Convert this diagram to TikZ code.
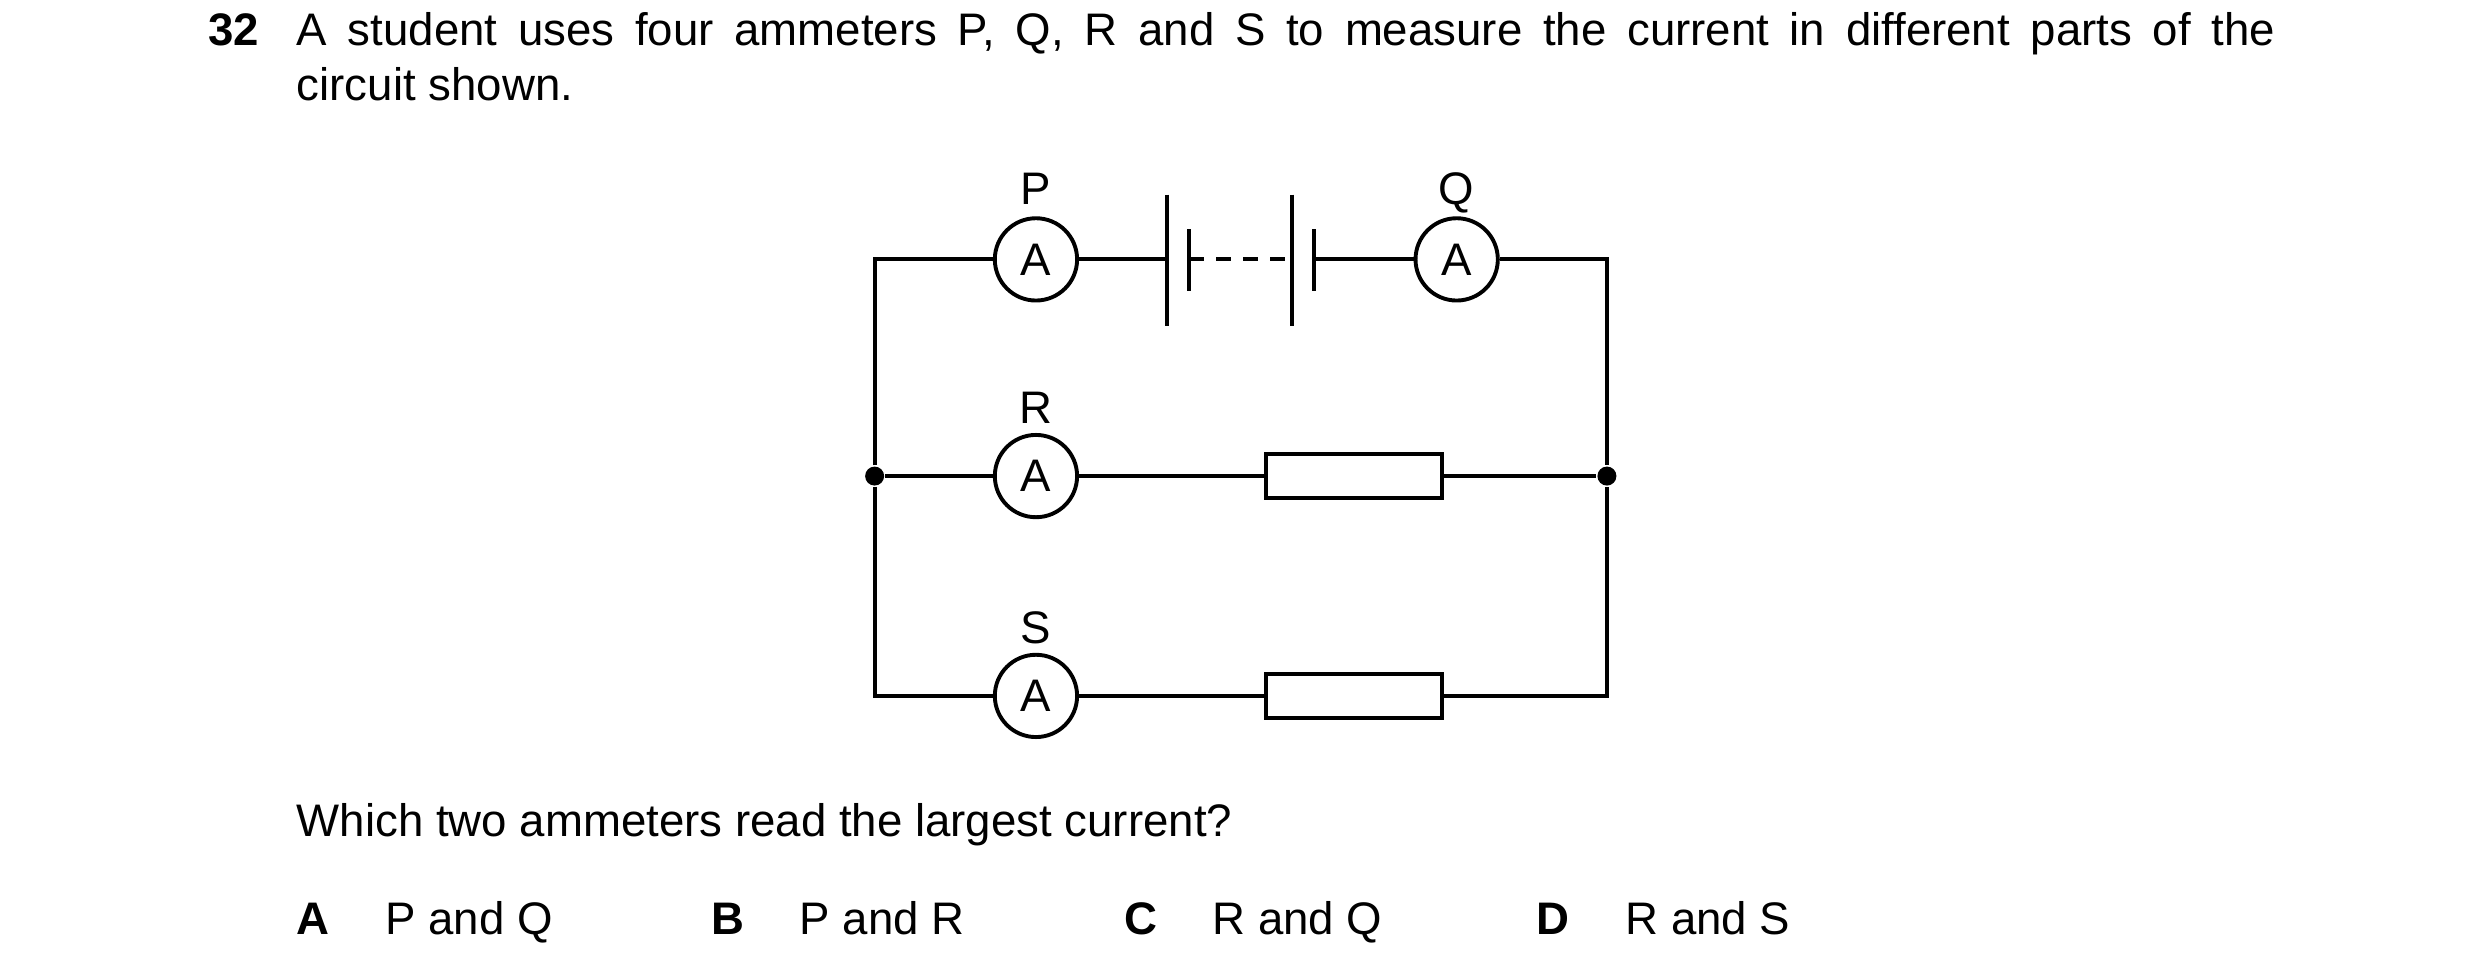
\documentclass[tikz,border=0pt]{standalone}
\usepackage{fontspec}
\setmainfont{Liberation Sans}
\usepackage{tikz}
\usetikzlibrary{positioning}

\tikzset{
  wire/.style={line width=0.7pt},
  meter/.style={circle, draw, line width=0.7pt, minimum size=0.52cm, inner sep=0pt, font=\fontsize{8.2}{9}\selectfont},
  lbl/.style={font=\fontsize{8.2}{9}\selectfont, inner sep=0pt, anchor=base},
  res/.style={rectangle, draw, line width=0.7pt, minimum width=1.11cm, minimum height=0.28cm, inner sep=0pt},
  dot/.style={circle, fill, inner sep=0pt, minimum size=0.12cm},
  txt/.style={font=\fontsize{8.2}{10}\selectfont, inner sep=0pt, anchor=base west}
}

\begin{document}
\begin{tikzpicture}[x=0.01cm, y=-0.01cm]
  \useasboundingbox (0,0) rectangle (1568,618);
  % question
  \node[txt, font=\fontsize{8.2}{10}\selectfont\bfseries] (num) at (131,29) {32};
  \node[txt, anchor=north west, text width=12.5cm, align=justify] (q) at (187,7)
    {A student uses four ammeters P, Q, R and S to measure the current in different parts of the\linebreak circuit shown.};
  % corners and junctions
  \coordinate (tl) at (553,164);
  \coordinate (tr) at (1016,164);
  \coordinate (bl) at (553,440);
  \coordinate (br) at (1016,440);
  \node[dot] (jl) at (553,301) {};
  \node[dot] (jr) at (1016,301) {};
  % meters
  \node[meter] (P) at (655,164) {A};
  \node[meter] (Q) at (921,164) {A};
  \node[meter] (R) at (655,301) {A};
  \node[meter] (S) at (655,440) {A};
  \node[lbl] (lP) at (655,129) {P};
  \node[lbl] (lQ) at (921,129) {Q};
  \node[lbl] (lR) at (655,268) {R};
  \node[lbl] (lS) at (655,407) {S};
  % resistors
  \node[res] (r1) at (856,301) {};
  \node[res] (r2) at (856,440) {};
  % battery
  \coordinate (c1) at (738,164);
  \coordinate (c2) at (752,164);
  \coordinate (c3) at (817,164);
  \coordinate (c4) at (831,164);
  \draw[wire] (c1) ++(0,-41) -- ++(0,83);
  \draw[wire] (c3) ++(0,-41) -- ++(0,83);
  \draw[wire] (c2) ++(0,-19) -- ++(0,39);
  \draw[wire] (c4) ++(0,-19) -- ++(0,39);
  \draw[wire, dash pattern=on 0.95mm off 0.75mm] (c2) -- (c3);
  % wires
  \draw[wire] (jl) -- (tl) -- (P) -- (c1);
  \draw[wire] (c4) -- (Q) -- (tr) -- (jr);
  \draw[wire] (jl) -- (R) -- (r1) -- (jr);
  \draw[wire] (jl) -- (bl) -- (S) -- (r2) -- (br) -- (jr);
  % answers
  \node[txt] (ask) at (187,529) {Which two ammeters read the largest current?};
  \node[txt, font=\fontsize{8.2}{10}\selectfont\bfseries] (kA) at (187,591) {A};
  \node[txt] (aA) at (243,591) {P and Q};
  \node[txt, font=\fontsize{8.2}{10}\selectfont\bfseries] (kB) at (449,591) {B};
  \node[txt] (aB) at (505,591) {P and R};
  \node[txt, font=\fontsize{8.2}{10}\selectfont\bfseries] (kC) at (710,591) {C};
  \node[txt] (aC) at (766,591) {R and Q};
  \node[txt, font=\fontsize{8.2}{10}\selectfont\bfseries] (kD) at (971,591) {D};
  \node[txt] (aD) at (1027,591) {R and S};
\end{tikzpicture}
\end{document}
